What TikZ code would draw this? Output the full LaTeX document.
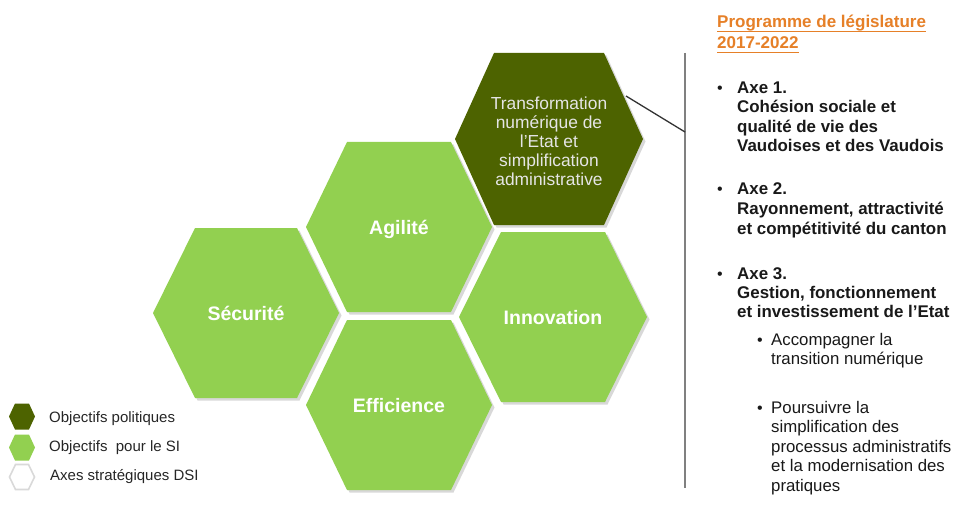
\documentclass[tikz,border=0pt]{standalone}
\usepackage{fontspec}
\setmainfont{Liberation Sans}
\usetikzlibrary{calc,shadows}
\definecolor{lgreen}{RGB}{146,208,80}
\definecolor{dgreen}{RGB}{77,99,0}
\definecolor{orangeT}{RGB}{230,128,40}
\definecolor{vlinec}{RGB}{128,128,128}
\definecolor{hexgray}{RGB}{217,217,217}
\newcommand{\myhexa}[5]{\path[#5] ($(#1)+(-#2,0)$) -- ($(#1)+(-#4,-#3)$) -- ($(#1)+(#4,-#3)$) -- ($(#1)+(#2,0)$) -- ($(#1)+(#4,#3)$) -- ($(#1)+(-#4,#3)$) -- cycle;}
\newcommand{\myul}[1]{\setbox0\hbox{#1}\rlap{\raisebox{-4pt}{\rule{\wd0}{1.4pt}}}\box0}
\tikzset{
  hexshadow/.style={drop shadow={opacity=0.3, shadow xshift=2.5pt, shadow yshift=-2.5pt}},
  greenhex/.style={fill=lgreen, hexshadow},
  darkhex/.style={fill=dgreen, hexshadow},
  legdark/.style={fill=dgreen},
  leggreen/.style={fill=lgreen},
  legwhite/.style={fill=white, draw=hexgray, line width=1.6pt},
  hexlabel/.style={anchor=base, inner sep=0pt, text=white, font=\fontsize{19.5}{22}\selectfont\bfseries},
  translabel/.style={anchor=center, inner sep=0pt, align=center, text=white!90!black, font=\fontsize{17.4}{19}\selectfont},
  legtext/.style={anchor=base west, inner sep=0pt, text=black!85, font=\fontsize{15}{18}\selectfont},
  rtitle/.style={anchor=base west, inner sep=0pt, text=orangeT, font=\fontsize{17}{21}\selectfont\bfseries},
  rbold/.style={anchor=base west, inner sep=0pt, text=black!90, font=\fontsize{16.9}{20}\selectfont\bfseries},
  rreg/.style={anchor=base west, inner sep=0pt, text=black!90, font=\fontsize{16.8}{20}\selectfont},
  bulletmark/.style={anchor=base, inner sep=0pt, text=black!90, font=\fontsize{16}{20}\selectfont},
  connector/.style={draw=black!80, line width=1.3pt},
  vbar/.style={draw=vlinec, line width=2pt}
}
\begin{document}
\begin{tikzpicture}[x=1pt, y=-1pt]
\useasboundingbox[fill=white] (0,0) rectangle (955,505);
% hexagon centres
\coordinate (cT) at (549,139);
\coordinate (cA) at (399,227);
\coordinate (cS) at (246,313);
\coordinate (cI) at (553,317);
\coordinate (cE) at (399,405);
% hexagons
\myhexa{cT}{94}{86}{55}{darkhex}
\myhexa{cA}{93}{85}{52}{greenhex}
\myhexa{cS}{93}{85}{51}{greenhex}
\myhexa{cI}{94}{85}{52}{greenhex}
\myhexa{cE}{93}{85}{52}{greenhex}
% labels
\node[translabel] (T) at (549,141) {Transformation\\numérique de\\l’Etat et\\simplification\\administrative};
\node[hexlabel] (agi) at (399,234) {Agilité};
\node[hexlabel] (sec) at (246,320) {Sécurité};
\node[hexlabel] (inn) at (553,324) {Innovation};
\node[hexlabel] (eff) at (399,412) {Efficience};
% legend
\coordinate (l1) at (22,416.5);
\coordinate (l2) at (22,447.5);
\coordinate (l3) at (22,477);
\myhexa{l1}{13}{13}{7}{legdark}
\myhexa{l2}{13}{13}{7}{leggreen}
\myhexa{l3}{12.5}{12.5}{6.5}{legwhite}
\node[legtext] (lt1) at (49,422.3) {Objectifs politiques};
\node[legtext] (lt2) at (49,451) {Objectifs\ \ pour le SI};
\node[legtext] (lt3) at (50,480.7) {Axes stratégiques DSI};
% bracket and connector
\coordinate (vtop) at (685,53);
\coordinate (vbot) at (685,488);
\coordinate (brk) at (685,132);
\coordinate (tedge) at ($(cT)+(77,-43)$);
\draw[vbar] (vtop) -- (vbot);
\draw[connector] (tedge) -- (brk);
% right text
\node[rtitle] (ti1) at (717,28) {\myul{Programme de législature}};
\node[rtitle] (ti2) at (717,49) {\myul{2017-2022}};
\node[bulletmark] (b1) at (720,93.5) {•};
\node[rbold] (a1a) at (737,93.5) {Axe 1.};
\node[rbold] (a1b) at (737,113) {Cohésion sociale et};
\node[rbold] (a1c) at (737,132.5) {qualité de vie des};
\node[rbold] (a1d) at (737,152) {Vaudoises et des Vaudois};
\node[bulletmark] (b2) at (720,195) {•};
\node[rbold] (a2a) at (737,195) {Axe 2.};
\node[rbold] (a2b) at (737,214.5) {Rayonnement, attractivité};
\node[rbold] (a2c) at (737,234) {et compétitivité du canton};
\node[bulletmark] (b3) at (720,279) {•};
\node[rbold] (a3a) at (737,279) {Axe 3.};
\node[rbold] (a3b) at (737,298) {Gestion, fonctionnement};
\node[rbold] (a3c) at (737,317) {et investissement de l’Etat};
\node[bulletmark] (s1) at (760,345) {•};
\node[rreg] (s1a) at (771,345) {Accompagner la};
\node[rreg] (s1b) at (771,364) {transition numérique};
\node[bulletmark] (s2) at (760,413) {•};
\node[rreg] (s2a) at (771,413) {Poursuivre la};
\node[rreg] (s2b) at (771,432.5) {simplification des};
\node[rreg] (s2c) at (771,452) {processus administratifs};
\node[rreg] (s2d) at (771,471.5) {et la modernisation des};
\node[rreg] (s2e) at (771,491) {pratiques};
\end{tikzpicture}
\end{document}
